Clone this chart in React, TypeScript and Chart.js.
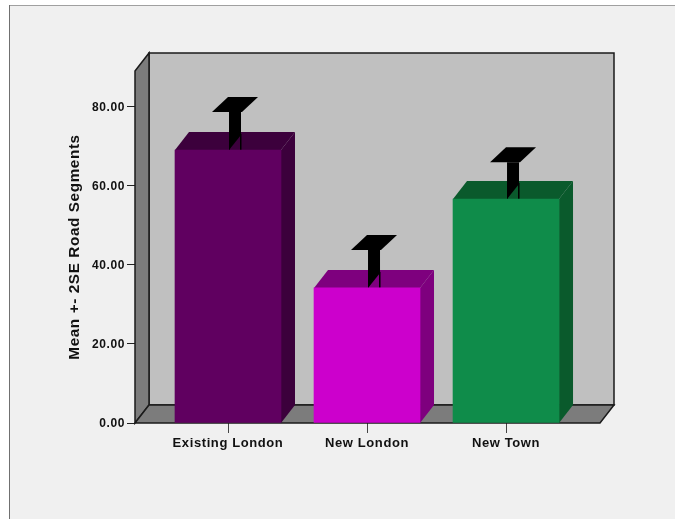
import React, { useEffect, useRef } from "react";
import { Chart, registerables } from "chart.js";

Chart.register(...registerables);

const categories = ["Existing London", "New London", "New Town"];
const means = [69.1, 34.2, 56.7];
const upperLimits = [78.7, 43.8, 66.0];
const yTicks = [0, 20, 40, 60, 80];
const faceColors = ["#600060", "#cc00cc", "#0f8c4a"];
const sideColors = ["#3c003c", "#7e007e", "#0a5a2c"];

const yMax = 89.1;
const depthX = 14;
const depthY = 18;
const barWidth = 106;

function poly(ctx: CanvasRenderingContext2D, pts: number[][], fill: string | null, stroke?: string, lw = 1) {
  ctx.beginPath();
  pts.forEach(([x, y], i) => (i ? ctx.lineTo(x, y) : ctx.moveTo(x, y)));
  ctx.closePath();
  if (fill) {
    ctx.fillStyle = fill;
    ctx.fill();
  }
  if (stroke) {
    ctx.strokeStyle = stroke;
    ctx.lineWidth = lw;
    ctx.stroke();
  }
}

// Paints the panel behind the axes and switches on the wider text tracking.
const framePlugin = {
  id: "frame",
  beforeDraw(chart: any) {
    const ctx: CanvasRenderingContext2D = chart.ctx;
    ctx.fillStyle = "#ffffff";
    ctx.fillRect(0, 0, chart.width, chart.height);
    ctx.fillStyle = "#f0f0f0";
    ctx.fillRect(10, 6, chart.width - 10, chart.height - 6);
    ctx.fillStyle = "#a0a0a0";
    ctx.fillRect(9, 5, chart.width - 9, 1);
    ctx.fillStyle = "#707070";
    ctx.fillRect(9, 5, 1, chart.height - 5);
    (ctx as any).letterSpacing = "0.6px";
  },
};

// Draws the box walls, the bar extrusions and the error bars from the chart's scales.
const box3dPlugin = {
  id: "box3d",
  beforeDatasetsDraw(chart: any) {
    const ctx: CanvasRenderingContext2D = chart.ctx;
    const { left, right, top, bottom } = chart.chartArea;
    const xs = chart.scales.x;
    const ys = chart.scales.y;
    const line = "#1a1a1a";
    ctx.save();

    poly(ctx, [[left + depthX, top - depthY], [right + depthX, top - depthY], [right + depthX, bottom - depthY], [left + depthX, bottom - depthY]], "#c0c0c0", line, 1.5);
    poly(ctx, [[left, top], [left + depthX, top - depthY], [left + depthX, bottom - depthY], [left, bottom]], "#7c7c7c", line, 1.5);
    poly(ctx, [[left, bottom], [left + depthX, bottom - depthY], [right + depthX, bottom - depthY], [right, bottom]], "#7c7c7c", line, 1.5);

    means.forEach((mean, i) => {
      const cx = xs.getPixelForValue(i);
      const x0 = cx - barWidth / 2;
      const x1 = cx + barWidth / 2;
      const yTop = ys.getPixelForValue(mean);
      poly(ctx, [[x1, yTop], [x1 + depthX, yTop - depthY], [x1 + depthX, bottom - depthY], [x1, bottom]], sideColors[i]);
      poly(ctx, [[x0, yTop], [x0 + depthX, yTop - depthY], [x1 + depthX, yTop - depthY], [x1, yTop]], sideColors[i]);

      // Error bar: extruded stem with a flat cap.
      const yCap = ys.getPixelForValue(upperLimits[i]);
      const stem0 = cx + 1;
      const stem1 = cx + 13;
      poly(ctx, [[stem0, yCap], [stem1, yCap], [stem1, yTop - 15], [stem0, yTop]], "#000000");
      ctx.fillStyle = "#000000";
      ctx.fillRect(stem1 - 1, yTop - 16, 1.5, 16);
      ctx.fillRect(stem0, yTop - 6, 1, 6);
      poly(ctx, [[cx - 16, yCap], [cx + 14, yCap], [cx + 30, yCap - 15], [cx, yCap - 15]], "#000000");
    });
    ctx.restore();
  },
};

export default function App() {
  const ref = useRef<HTMLCanvasElement>(null);

  useEffect(() => {
    document.body.style.margin = "0";
    document.body.style.background = "#ffffff";
    const chart = new Chart(ref.current!, {
      type: "bar",
      data: {
        datasets: [
          {
            data: means.map((y, x) => ({ x, y })),
            backgroundColor: faceColors,
            barThickness: barWidth,
            borderWidth: 0,
          },
        ],
      },
      options: {
        animation: false,
        responsive: false,
        layout: { padding: { left: 66, top: 71, right: 75, bottom: 0 } },
        plugins: { legend: { display: false }, tooltip: { enabled: false }, title: { display: false } },
        scales: {
          x: {
            type: "linear",
            offset: false,
            min: -0.669,
            max: 2.676,
            afterBuildTicks(scale: any) {
              scale.ticks = categories.map((_, value) => ({ value }));
            },
            afterFit(scale: any) {
              scale.height = 96;
            },
            grid: { offset: false, drawOnChartArea: false, drawTicks: true, tickLength: 10, color: "#444444" },
            border: { display: false },
            ticks: {
              color: "#111111",
              font: { family: "'Liberation Sans'", size: 13, weight: "bold" },
              padding: 3,
              maxRotation: 0,
              autoSkip: false,
              callback: (v: any) => categories[v],
            },
          },
          y: {
            min: 0,
            max: yMax,
            afterBuildTicks(scale: any) {
              scale.ticks = yTicks.map((value) => ({ value }));
            },
            afterFit(scale: any) {
              scale.width = 69;
            },
            grid: { drawOnChartArea: false, drawTicks: true, tickLength: 8, color: "#222222" },
            border: { display: false },
            title: {
              display: true,
              text: "Mean +- 2SE Road Segments",
              color: "#111111",
              font: { family: "'Liberation Sans'", size: 15.3, weight: "bold" },
              padding: 0,
            },
            ticks: {
              color: "#111111",
              font: { family: "'Liberation Sans'", size: 12, weight: "bold" },
              padding: 2,
              labelOffset: 1,
              callback: (v: any) => Number(v).toFixed(2),
            },
          },
        },
      },
      plugins: [framePlugin, box3dPlugin],
    } as any);
    return () => chart.destroy();
  }, []);

  return <canvas ref={ref} width={675} height={519} style={{ display: "block" }} />;
}
